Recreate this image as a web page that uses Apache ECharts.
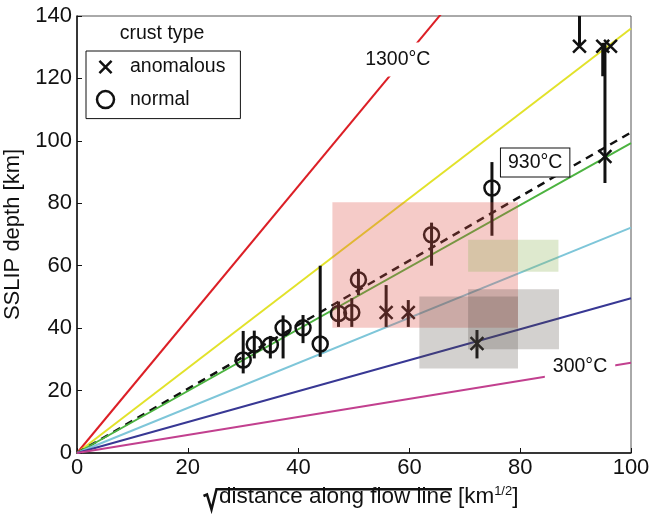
<!DOCTYPE html>
<html><head><meta charset="utf-8">
<script src="https://cdn.jsdelivr.net/npm/echarts@6/dist/echarts.min.js"></script>
<style>html,body{margin:0;padding:0;background:#fff}#c{width:650px;height:516px}</style>
</head><body><div id="c"></div>
<script>
// ---------- data ----------
const xTicks = [0, 20, 40, 60, 80, 100];
const yTicks = [0, 20, 40, 60, 80, 100, 120, 140];

// isotherm lines from origin: depth (km) reached at sqrt-distance = 100
const isoNames = ['1300°C', 'iso-yellow', '930°C fit', 'iso-green', 'iso-cyan', 'iso-navy', '300°C'];
const isoDepthAt100 = [214, 136, 102.7, 99.3, 72.2, 49.6, 28.9];

// normal crust (circles)
const normalX  = [30.0, 32.0, 34.9, 37.2, 40.8, 43.9, 47.2, 49.6, 50.8, 64.0, 74.9];
const normalY  = [29.8, 34.8, 34.6, 40.1, 40.1, 34.9, 44.7, 45.0, 55.5, 69.9, 84.9];
const normalLo = [25.5, 30.3, 30.3, 30.3, 35.2, 30.8, 40.4, 40.4, 50.6, 60.0, 69.6];
const normalHi = [39.1, 39.2, 37.5, 44.1, 44.2, 60.0, 48.5, 49.6, 59.0, 73.8, 93.2];

// anomalous crust (crosses)
const anomX  = [55.8, 59.8, 72.2, 90.7, 94.9, 96.3, 95.3];
const anomY  = [45.0, 45.0, 35.1, 130.3, 130.3, 130.3, 95.0];
const anomLo = [40.4, 40.4, 30.3, 130.3, 120.7, null, 86.5];
const anomHi = [53.8, 49.0, 39.4, 140.0, 131.4, null, 131.4];

// shaded regions [x0, x1, y0, y1]
const pinkBox  = [46.1, 79.6, 40.1, 80.3];
const grayBoxA = [61.8, 79.6, 27.1, 50.1];
const grayBoxB = [70.6, 87.0, 33.2, 52.5];
const greenBox = [70.6, 86.9, 58.1, 68.3];

// ---------- styles ----------
const FONT = '"Liberation Sans", Arial, Helvetica, sans-serif';
const isoColors = ['#dc1f26', '#e2e22a', '#111111', '#4cb340', '#7ec6d9', '#383894', '#c2408f'];
const boxFill = ['rgba(222,82,72,0.30)', 'rgba(80,70,65,0.25)', 'rgba(80,70,65,0.25)', 'rgba(145,183,93,0.30)'];
const CROSS = 'path://M-2,-2M0,0L10,10M10,0L0,10M12,12';

const chart = echarts.init(document.getElementById('c'), null, {renderer: 'canvas'});

const isoSeries = isoNames.map((n, i) => ({
  name: n, type: 'line', data: [[0, 0], [100, isoDepthAt100[i]]],
  showSymbol: false, silent: true, clip: true, z: 2,
  lineStyle: {color: isoColors[i], width: i === 2 ? 2.5 : 2, type: i === 2 ? [8, 6] : 'solid'},
  legendHoverLink: false
}));

const errData = [];
normalX.forEach((x, i) => errData.push([x, normalLo[i], normalHi[i]]));
anomX.forEach((x, i) => { if (anomLo[i] != null) errData.push([x, anomLo[i], anomHi[i]]); });

const boxes = [pinkBox, grayBoxA, grayBoxB, greenBox].map((b, i) => [b[0], b[1], b[2], b[3], i]);

const option = {
  backgroundColor: '#fff',
  animation: false,
  grid: {left: 77, right: 19, top: 16, bottom: 63, outerBoundsMode: 'none', containLabel: false,
         show: true, borderColor: '#555', borderWidth: 1, backgroundColor: 'transparent'},
  xAxis: {
    type: 'value', min: xTicks[0], max: xTicks[xTicks.length - 1], interval: 20,
    axisLine: {lineStyle: {color: '#111', width: 1.5}},
    axisTick: {inside: true, length: 5, lineStyle: {color: '#111', width: 1}},
    axisLabel: {fontSize: 22, color: '#111', fontFamily: FONT, margin: 4},
    splitLine: {show: false}
  },
  yAxis: {
    type: 'value', min: yTicks[0], max: yTicks[yTicks.length - 1], interval: 20,
    name: 'SSLIP depth [km]', nameLocation: 'middle', nameGap: 46, nameRotate: 90,
    nameTextStyle: {fontSize: 22, color: '#111', fontFamily: FONT},
    axisLine: {lineStyle: {color: '#111', width: 1.5}},
    axisTick: {inside: true, length: 5, lineStyle: {color: '#111', width: 1}},
    axisLabel: {fontSize: 22, color: '#111', fontFamily: FONT, margin: 5},
    splitLine: {show: false}
  },
  legend: {
    orient: 'vertical', left: 86, top: 51,
    padding: [5, 15, 9, 8.5],
    borderColor: '#111', borderWidth: 1, backgroundColor: '#fff',
    itemWidth: 25, itemHeight: 17, itemGap: 11.6,
    selectedMode: false,
    textStyle: {fontSize: 19.5, color: '#111', fontFamily: FONT, padding: [0, 0, 0, 7]},
    data: [
      {name: 'anomalous', icon: CROSS, itemStyle: {color: 'none', borderColor: '#111', borderWidth: 2.5, opacity: 1}},
      {name: 'normal', icon: 'circle', itemStyle: {color: 'rgba(255,255,255,0)', borderColor: '#111', borderWidth: 2.5, opacity: 1}}
    ]
  },
  graphic: [
    {type: 'text', x: 162, y: 34, z: 10,
     style: {text: 'crust type', fontSize: 19.5, fontFamily: FONT, fill: '#111', align: 'center', verticalAlign: 'middle'}},
    {type: 'polyline', z: 10,
     shape: {points: [[203.5, 496], [207, 494.5], [211.5, 509.5], [216.5, 489.3], [452, 489.3]]},
     style: {stroke: '#111', lineWidth: 2.5, fill: null}},
    {type: 'text', x: 219, y: 497, z: 10,
     style: {
       text: '{m|distance along flow line [km}{s|1/2}{m|]}',
       verticalAlign: 'middle', align: 'left',
       rich: {
         m: {fontSize: 22.5, fontFamily: FONT, fill: '#111', lineHeight: 25},
         s: {fontSize: 13, fontFamily: FONT, fill: '#111', verticalAlign: 'top', lineHeight: 14}
       }
     }}
  ],
  series: [
    ...isoSeries,
    {
      name: 'isoLabels', type: 'scatter', symbolSize: 0, silent: true, z: 3,
      itemStyle: {opacity: 1},
      data: [
        {value: [57.9, 126.1], label: {formatter: '1300°C', padding: [7, 3]}},
        {value: [82.7, 93.1], label: {formatter: '930°C', borderColor: '#111', borderWidth: 1, padding: [4, 7]}},
        {value: [90.8, 27.6], label: {formatter: '300°C', padding: [4, 8]}}
      ],
      label: {show: true, position: 'inside', fontSize: 19.5, fontFamily: FONT, color: '#111', backgroundColor: '#fff'}
    },
    {
      name: 'errorbars', type: 'custom', z: 4, silent: true, clip: true,
      data: errData,
      renderItem: function (params, api) {
        const a = api.coord([api.value(0), api.value(1)]);
        const b = api.coord([api.value(0), api.value(2)]);
        return {type: 'line', shape: {x1: a[0], y1: a[1], x2: b[0], y2: b[1]}, style: {stroke: '#111', lineWidth: 3}};
      }
    },
    {
      name: 'normal', type: 'scatter', z: 5, symbol: 'circle', symbolSize: 15,
      data: normalX.map((x, i) => [x, normalY[i]]),
      itemStyle: {color: 'rgba(255,255,255,0)', borderColor: '#111', borderWidth: 2.5, opacity: 1}
    },
    {
      name: 'anomalous', type: 'scatter', z: 5, symbol: CROSS, symbolSize: 18,
      data: anomX.map((x, i) => [x, anomY[i]]),
      itemStyle: {color: 'none', borderColor: '#111', borderWidth: 2.5, opacity: 1}
    },
    {
      name: 'regions', type: 'custom', z: 6, silent: true, clip: true,
      data: boxes,
      renderItem: function (params, api) {
        const p0 = api.coord([api.value(0), api.value(3)]);
        const p1 = api.coord([api.value(1), api.value(2)]);
        return {type: 'rect', shape: {x: p0[0], y: p0[1], width: p1[0] - p0[0], height: p1[1] - p0[1]},
                style: {fill: boxFill[api.value(4)]}};
      }
    }
  ]
};
chart.setOption(option);
</script>
</body></html>
